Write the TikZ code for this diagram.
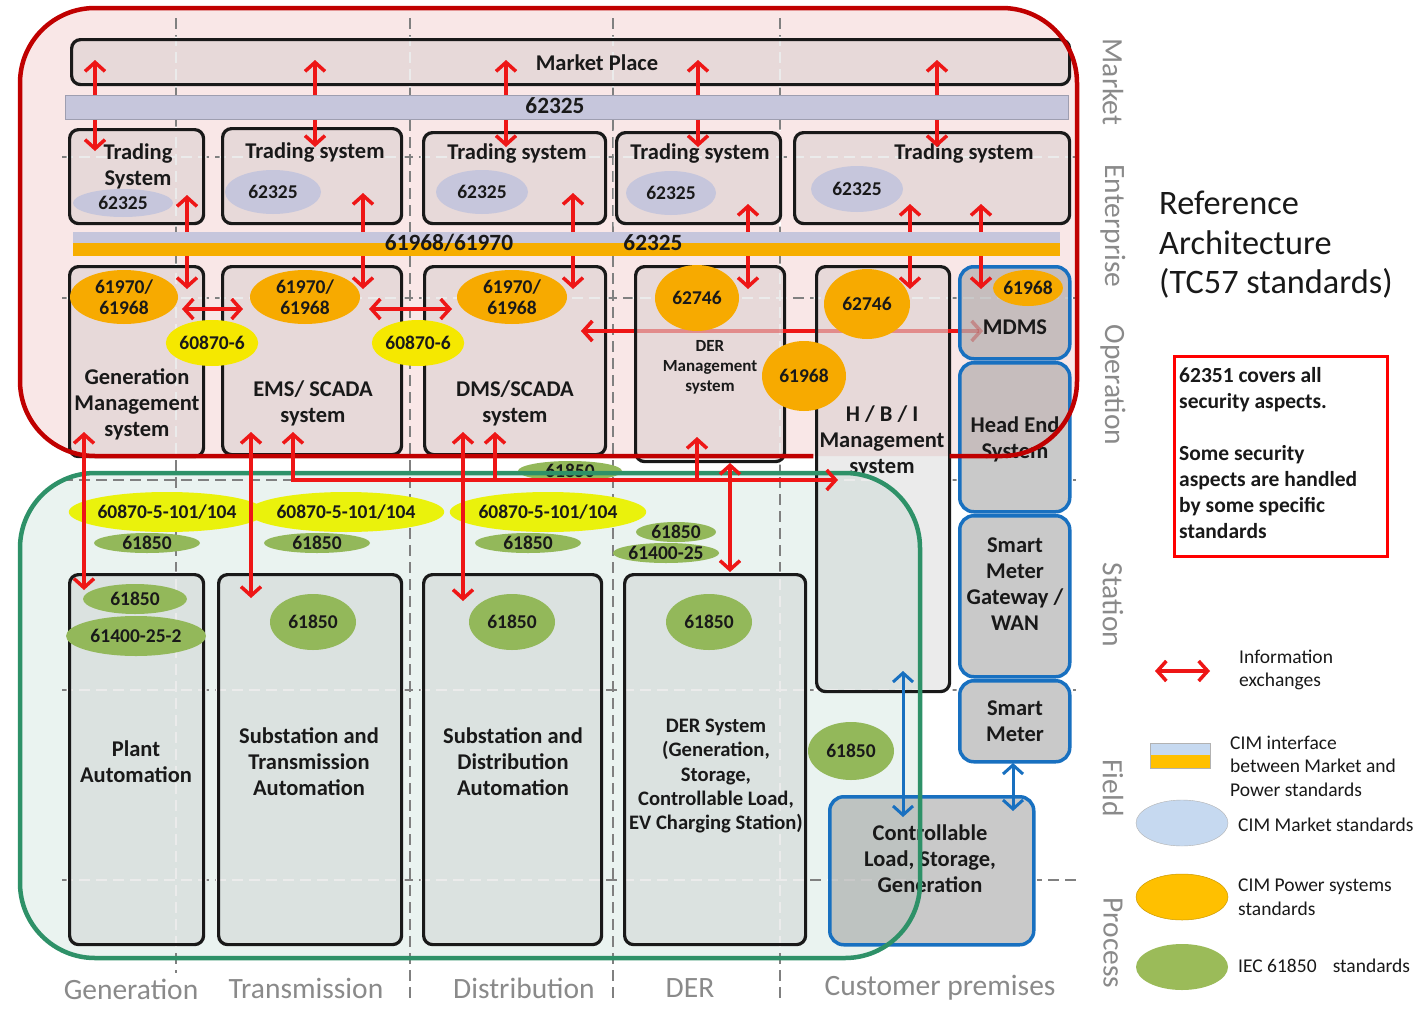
\documentclass[tikz,border=0pt]{standalone}
\usepackage{fontspec}
\setmainfont{Carlito}
\usetikzlibrary{shapes.geometric,arrows.meta}
\definecolor{redC}{RGB}{192,0,0}
\definecolor{redbg}{RGB}{249,231,231}
\definecolor{greenC}{RGB}{46,145,104}
\definecolor{greenbg}{RGB}{234,243,240}
\definecolor{arrR}{RGB}{238,22,22}
\definecolor{blueC}{RGB}{24,112,192}
\definecolor{lav}{RGB}{198,198,220}
\definecolor{orgE}{RGB}{247,170,0}
\definecolor{orgBar}{RGB}{247,174,0}
\definecolor{yelA}{RGB}{245,232,0}
\definecolor{yelB}{RGB}{234,242,12}
\definecolor{grnE}{RGB}{147,184,90}
\definecolor{gridC}{RGB}{128,128,128}
\definecolor{axisT}{RGB}{138,138,138}
\definecolor{legBlue}{RGB}{198,217,240}
\definecolor{legOrg}{RGB}{255,192,0}
\definecolor{legGrn}{RGB}{155,187,89}
\definecolor{txt}{RGB}{25,25,25}
\begin{document}
\begin{tikzpicture}[x=1pt,y=-1pt,
 box/.style={draw=black!90, line width=3.2pt, rounded corners=9pt, fill=gray!60, fill opacity=0.25, anchor=north west, inner sep=0},
 bbox/.style={draw=blueC, line width=3.5pt, rounded corners=14pt, fill=black!42, fill opacity=0.5, anchor=north west, inner sep=0},
 ell/.style={ellipse, inner sep=0, text=txt, font=\fontsize{19.5}{21.5}\selectfont\bfseries, align=center},
 lbl/.style={font=\fontsize{22.5}{26}\selectfont\bfseries, align=center, text=txt, inner sep=0},
 axl/.style={font=\fontsize{29.5}{32}\selectfont, text=axisT, inner sep=0},
 gridline/.style={draw=gridC, line width=2pt, dash pattern=on 11pt off 6pt},
 gridfaint/.style={draw=white, line width=2pt, dash pattern=on 11pt off 6pt},
 rarr/.style={draw=arrR, line width=3.5pt, {Straight Barb[length=9pt,width=20pt]}-{Straight Barb[length=9pt,width=20pt]}},
 rarrs/.style={draw=arrR, line width=3.5pt, {Straight Barb[length=9pt,width=20pt]}-},
 barr/.style={draw=blueC, line width=3pt, {Straight Barb[length=9pt,width=20pt]}-{Straight Barb[length=9pt,width=20pt]}},
 leg/.style={font=\fontsize{19.5}{23.5}\selectfont, text=txt, align=left, anchor=west, inner sep=0},
 bartxt/.style={font=\fontsize{23.3}{26}\selectfont\bfseries, text=txt, inner sep=0}
]
\useasboundingbox (0,0) rectangle (1421,1009);
\fill[white] (0,0) rectangle (1421,1009);

% container fills
\fill[redbg, rounded corners=75pt] (20,8) rectangle (1077,456);
\fill[greenbg, rounded corners=75pt] (20,473) rectangle (920,958);

% faint grid (seen through boxes)
\foreach \x/\yb in {176/973,410/1003,613/1003,780/1003} \draw[gridfaint] (\x,18) -- (\x,\yb);
\foreach \y in {157,298,480,690,880} \draw[gridfaint] (62,\y) -- (1076,\y);

% long line DMS <-> MDMS (under boxes, pale)
\coordinate (dmsL) at (581,331);
\coordinate (mdmsR) at (983,331);
\coordinate (dermL) at (634,331);
\coordinate (dermR) at (783,331);
\coordinate (hbiL) at (815,331);
\coordinate (hbiR) at (948,331);
\coordinate (mdmsL) at (958,331);
\draw[rarr, draw opacity=0.5] (dmsL) -- (mdmsR);

% boxes
\node[box, minimum width=998, minimum height=45] (mp) at (70,38) {};
\node[box, minimum width=134, minimum height=94] (ts1) at (68,128) {};
\node[box, minimum width=179, minimum height=95] (ts2) at (221,127) {};
\node[box, minimum width=182, minimum height=91] (ts3) at (422,131) {};
\node[box, minimum width=164, minimum height=91] (ts4) at (615,131) {};
\node[box, minimum width=275, minimum height=91] (ts5) at (793,131) {};
\node[box, minimum width=134, minimum height=190] (gms) at (68,265) {};
\node[box, minimum width=179, minimum height=188] (ems) at (221,265) {};
\node[box, minimum width=181, minimum height=188] (dms) at (423,265) {};
\node[box, minimum width=149, minimum height=195] (derm) at (634,265) {};
\node[box, minimum width=133, minimum height=425] (hbi) at (815,265) {};
\node[bbox, minimum width=110, minimum height=92] (mdms) at (958,265) {};
\node[bbox, minimum width=110, minimum height=149] (hes) at (958,361) {};
\node[bbox, minimum width=110, minimum height=161] (smg) at (958,514) {};
\node[bbox, minimum width=110, minimum height=81] (sm) at (958,679) {};
\node[bbox, minimum width=204, minimum height=148] (clsg) at (828,795) {};
\node[box, minimum width=134, minimum height=370] (pa) at (68,573) {};
\node[box, minimum width=183, minimum height=370] (sta) at (217,573) {};
\node[box, minimum width=178, minimum height=370] (sda) at (422,573) {};
\node[box, minimum width=181, minimum height=370] (ders) at (623,573) {};

% grid lines, kept out of the boxes
\begin{scope}[even odd rule]
\clip (0,0) rectangle (1421,1009)
 foreach \b in {mp,ts1,ts2,ts3,ts4,ts5,gms,ems,dms,derm,hbi,mdms,hes,smg,sm,clsg,pa,sta,sda,ders}{
   ([shift={(-1.5,-1.5)}]\b.north west) rectangle ([shift={(1.5,1.5)}]\b.south east)};
\foreach \x/\yb in {176/973,410/1003,613/1003,780/1003} \draw[gridline] (\x,18) -- (\x,\yb);
\foreach \y in {157,298,480,690,880} \draw[gridline] (62,\y) -- (1076,\y);
\end{scope}

% ellipses - orange
\node[ell, fill=orgE, minimum width=108, minimum height=54] (o1) at (124,297) {61970/\\61968};
\node[ell, fill=orgE, minimum width=110, minimum height=54] (o2) at (305,297) {61970/\\61968};
\node[ell, fill=orgE, minimum width=110, minimum height=54] (o3) at (512,297) {61970/\\61968};
\node[ell, fill=orgE, minimum width=84, minimum height=66] (o4) at (697,298) {62746};
\node[ell, fill=orgE, minimum width=86, minimum height=70] (o5) at (867,304) {62746};
\node[ell, fill=orgE, minimum width=84, minimum height=70] (o6) at (804,376) {61968};
\node[ell, fill=orgE, minimum width=62, minimum height=36] (o7) at (1028,288) {61968};
% lavender
\node[ell, fill=lav, minimum width=100, minimum height=28] (l1) at (123,203) {62325};
\node[ell, fill=lav, minimum width=96, minimum height=44] (l2) at (273,192) {62325};
\node[ell, fill=lav, minimum width=92, minimum height=44] (l3) at (482,192) {62325};
\node[ell, fill=lav, minimum width=90, minimum height=44] (l4) at (671,193) {62325};
\node[ell, fill=lav, minimum width=92, minimum height=46] (l5) at (857,189) {62325};
% yellow
\node[ell, fill=yelA, minimum width=92, minimum height=46] (y1) at (212,343) {60870-6};
\node[ell, fill=yelA, minimum width=92, minimum height=46] (y2) at (418,343) {60870-6};
\node[ell, fill=yelB, minimum width=166, minimum height=40] (y3) at (167,512) {60870-5-101/104};
\node[ell, fill=yelB, minimum width=166, minimum height=40] (y4) at (346,512) {60870-5-101/104};
\node[ell, fill=yelB, minimum width=166, minimum height=40] (y5) at (548,512) {60870-5-101/104};
% green
\node[ell, fill=grnE, minimum width=106, minimum height=20] (g1) at (147,543) {61850};
\node[ell, fill=grnE, minimum width=106, minimum height=20] (g2) at (317,543) {61850};
\node[ell, fill=grnE, minimum width=106, minimum height=20] (g3) at (528,543) {61850};
\node[ell, fill=grnE, minimum width=104, minimum height=20] (g4) at (570,471) {61850};
\node[ell, fill=grnE, minimum width=80, minimum height=20] (g5) at (676,532) {61850};
\node[ell, fill=grnE, minimum width=82, minimum height=20] (g6) at (666,553) {61400-25};
\node[ell, fill=grnE, minimum width=104, minimum height=30] (g7) at (135,599) {61850};
\node[ell, fill=grnE, minimum width=140, minimum height=40] (g8) at (136,636) {61400-25-2};
\node[ell, fill=grnE, minimum width=86, minimum height=56] (g9) at (313,622) {61850};
\node[ell, fill=grnE, minimum width=86, minimum height=56] (g10) at (512,622) {61850};
\node[ell, fill=grnE, minimum width=86, minimum height=56] (g11) at (709,622) {61850};
\node[ell, fill=grnE, minimum width=86, minimum height=58] (g12) at (851,751) {61850};

% box labels
\node[lbl] (tmp) at (597,63) {Market Place};
\node[lbl] (tt1) at (138,166) {Trading\\System};
\node[lbl] (tt2) at (315,153) {Trading system};
\node[lbl] (tt3) at (517,154) {Trading system};
\node[lbl] (tt4) at (700,154) {Trading system};
\node[lbl] (tt5) at (964,154) {Trading system};
\node[lbl] (tgms) at (137,404) {Generation\\Management\\system};
\node[lbl] (tems) at (313,403) {EMS/ SCADA\\system};
\node[lbl] (tdms) at (515,403) {DMS/SCADA\\system};
\node[lbl, font=\fontsize{17}{20}\selectfont\bfseries] (tderm) at (710,367) {DER\\Management\\system};
\node[lbl] (thbi) at (882,441) {H / B / I\\Management\\system};
\node[lbl] (tmdms) at (1015,327) {MDMS};
\node[lbl] (thes) at (1015,439) {Head End\\System};
\node[lbl] (tsmg) at (1015,584) {Smart\\Meter\\Gateway /\\WAN};
\node[lbl] (tsm) at (1015,721) {Smart\\Meter};
\node[lbl] (tclsg) at (930,859) {Controllable\\Load, Storage,\\Generation};
\node[lbl] (tpa) at (136,762) {Plant\\Automation};
\node[lbl] (tsta) at (309,762) {Substation and\\Transmission\\Automation};
\node[lbl] (tsda) at (513,762) {Substation and\\Distribution\\Automation};
\node[lbl, font=\fontsize{20.6}{24.3}\selectfont\bfseries] (tders) at (716,776) {DER System\\(Generation,\\Storage,\\Controllable Load,\\EV Charging Station)};

% container borders
\begin{scope}[even odd rule]
\clip (0,0) rectangle (1421,1009) (813.4,263.4) rectangle (949.6,691.6);
\draw[redC, line width=4.5pt, rounded corners=75pt] (20,8) rectangle (1077,456);
\end{scope}
\draw[greenC, line width=4.5pt, rounded corners=75pt] (20,473) rectangle (920,958);

% red arrows market <-> trading
\foreach \x/\yb [count=\i] in {95/151,315/147,506/147,698/147,937/147}{
  \coordinate (mt\i) at (\x,60);
  \coordinate (tm\i) at (\x,\yb);
  \draw[rarr] (mt\i) -- (tm\i);
}
% trading <-> operation
\foreach \x/\yt [count=\i] in {187/195,363/193,573/193,748/204,910/204,981/204}{
  \coordinate (to\i) at (\x,\yt);
  \coordinate (ot\i) at (\x,289);
  \draw[rarr] (to\i) -- (ot\i);
}
% horizontal exchanges operation
\coordinate (h1a) at (182,309); \coordinate (h1b) at (243,309);
\coordinate (h2a) at (369,309); \coordinate (h2b) at (452,309);
\draw[rarr] (h1a) -- (h1b);
\draw[rarr] (h2a) -- (h2b);
\draw[rarrs] (dmsL) -- (dermL);
\draw[draw=arrR, line width=3.5pt] (dermR) -- (hbiL);
\draw[draw=arrR, line width=3.5pt] (hbiR) -- (mdmsL);

% operation <-> station
\coordinate (v1a) at (84,432); \coordinate (v1b) at (84,590);
\coordinate (v2a) at (251,432); \coordinate (v2b) at (251,598);
\coordinate (v3a) at (463,432); \coordinate (v3b) at (463,601);
\draw[rarr] (v1a) -- (v1b);
\draw[rarr] (v2a) -- (v2b);
\draw[rarr] (v3a) -- (v3b);
\coordinate (bus1) at (293,432); \coordinate (busE) at (838,480);
\draw[rarr] (bus1) |- (busE);
\coordinate (bus2) at (495,432); \coordinate (bus2b) at (495,480);
\coordinate (bus3) at (697,437); \coordinate (bus3b) at (697,480);
\draw[rarrs] (bus2) -- (bus2b);
\draw[rarrs] (bus3) -- (bus3b);
\coordinate (dd1) at (730,463); \coordinate (dd2) at (730,572);
\draw[rarr] (dd1) -- (dd2);

% blue arrows
\coordinate (bl1) at (903,671); \coordinate (bl2) at (903,817);
\coordinate (bl3) at (1013,763); \coordinate (bl4) at (1013,811);
\draw[barr] (bl1) -- (bl2);
\draw[barr] (bl3) -- (bl4);

% bars (over arrows)
\fill[lav] (65,95) rectangle (1068,119);
\draw[lav!80!black, line width=0.6pt] (65,95) rectangle (1068,119);
\node[bartxt] (b62325) at (555,106) {62325};
\fill[lav] (73,232) rectangle (1060,243);
\fill[orgBar] (73,243) rectangle (1060,256);
\node[bartxt] (bcim1) at (449,243) {61968/61970};
\node[bartxt] (bcim2) at (653,243) {62325};

% axis labels
\node[axl] (xg) at (131,989) {Generation};
\node[axl] (xt) at (306,988) {Transmission};
\node[axl] (xd) at (524,988) {Distribution};
\node[axl] (xder) at (690,988) {DER};
\node[axl] (xc) at (940,988) {Customer premises};
\node[axl, rotate=-90] (ym) at (1113,82) {Market};
\node[axl, rotate=-90] (ye) at (1113,226) {Enterprise};
\node[axl, rotate=-90] (yo) at (1113,385) {Operation};
\node[axl, rotate=-90] (ys) at (1113,605) {Station};
\node[axl, rotate=-90] (yf) at (1113,788) {Field};
\node[axl, rotate=-90] (yp) at (1113,943) {Process};

% title
\node[font=\fontsize{34.3}{39.5}\selectfont, text=txt, align=left, anchor=west, inner sep=0] (title) at (1159,245) {Reference\\Architecture\\(TC57 standards)};

% security note
\node[draw=red, line width=3pt, anchor=north west, minimum width=213, minimum height=200, inner sep=0] (note) at (1173,355) {};
\node[font=\fontsize{21.5}{26}\selectfont\bfseries, text=txt, align=left, anchor=north west, inner sep=0] (notet) at (1179,367) {62351 covers all\\security aspects.\\[26pt]Some security\\aspects are handled\\by some specific\\standards};

% legend
\coordinate (la) at (1155,671); \coordinate (lb) at (1210,671);
\draw[rarr] (la) -- (lb);
\node[leg] (lt1) at (1239,670) {Information\\exchanges};
\fill[legBlue] (1150,743) rectangle (1210,755);
\fill[legOrg] (1150,755) rectangle (1210,768);
\draw[gray!60, line width=0.8pt] (1150,743) rectangle (1210,768);
\node[leg] (lt2) at (1230,766) {CIM interface\\between Market and\\Power standards};
\node[ellipse, draw=gray!60, fill=legBlue, minimum width=92, minimum height=46, inner sep=0] (lgb) at (1182,823) {};
\node[leg] (lt3) at (1238,825) {CIM Market standards};
\node[ellipse, fill=legOrg, draw=legOrg!80!black, line width=0.5pt, minimum width=92, minimum height=46, inner sep=0] (lgo) at (1182,897) {};
\node[leg] (lt4) at (1238,897) {CIM Power systems\\standards};
\node[ellipse, fill=legGrn, minimum width=92, minimum height=46, inner sep=0] (lgg) at (1182,967) {};
\node[leg] (lt5) at (1238,966) {IEC 61850\hspace{0.6em} standards};
\end{tikzpicture}
\end{document}
